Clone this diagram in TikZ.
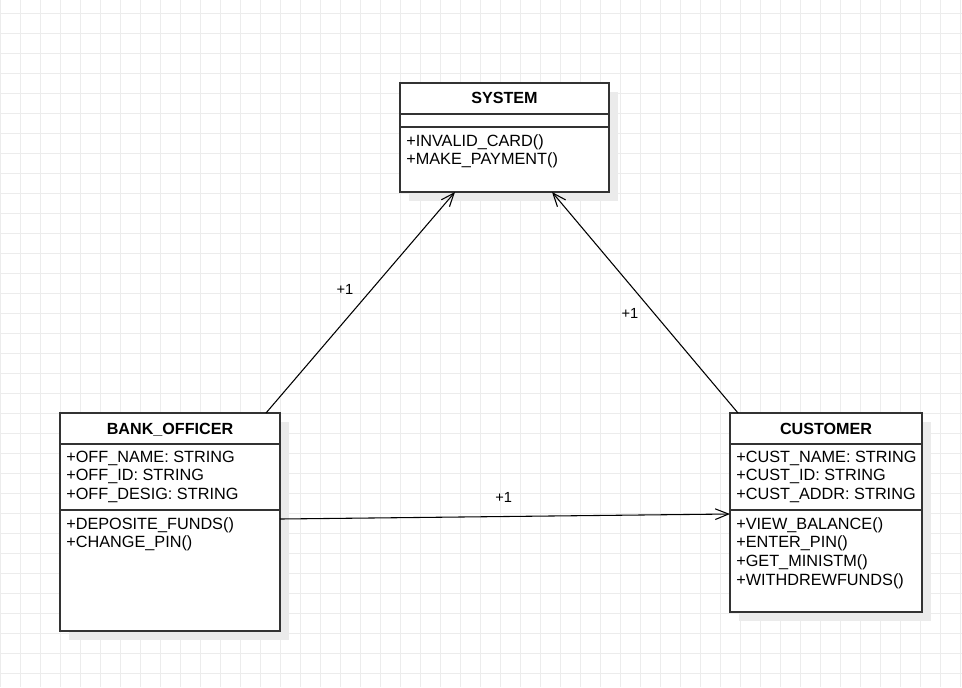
\documentclass[tikz,border=0pt]{standalone}
\usepackage{fontspec}
\setmainfont{Liberation Sans}
\usetikzlibrary{calc,arrows.meta}
\def\pxu{0.75pt}
\begin{document}
\begin{tikzpicture}[x=0.75pt,y=-0.75pt,
  cls/.style={draw=black!80, line width=1pt, fill=white, inner sep=0pt, outer sep=0pt, anchor=north west},
  hdr/.style={font=\fontsize{12.1}{14}\selectfont\bfseries, inner sep=0pt, anchor=base},
  row/.style={font=\fontsize{12.2}{14}\selectfont, inner sep=0pt, anchor=base west},
  lbl/.style={font=\fontsize{11}{13}\selectfont, inner sep=0pt},
  assoc/.style={draw=black, line width=0.8pt, -{Straight Barb[length=10pt,width=8pt]}},
  shadowc/.style={fill=black!8},
  gridline/.style={draw=black!7.5, line width=0.75pt}]

\useasboundingbox (0,0) rectangle (962,687);
\fill[white] (0,0) rectangle (962,687);
\foreach \gx in {0,20,...,960} \draw[gridline] (\gx,0) -- (\gx,687);
\foreach \gy in {13,33,...,673} \draw[gridline] (0,\gy) -- (962,\gy);

% SYSTEM
\fill[shadowc] (409,92) rectangle (618,201);
\node[cls, minimum width=209*\pxu, minimum height=31*\pxu] (sysh) at (400,83) {};
\node[cls, minimum width=209*\pxu, minimum height=13*\pxu] (sysa) at (sysh.south west) {};
\node[cls, minimum width=209*\pxu, minimum height=65*\pxu] (sysm) at (sysa.south west) {};
\node[hdr] (syst) at ($(sysh.north)+(0,20.5)$) {SYSTEM};
\node[row] (sys1) at ($(sysm.north west)+(6,19)$) {+INVALID\_CARD()};
\node[row] (sys2) at ($(sysm.north west)+(6,37.3)$) {+MAKE\_PAYMENT()};

% BANK_OFFICER
\fill[shadowc] (69,422) rectangle (289,640);
\node[cls, minimum width=220*\pxu, minimum height=31*\pxu] (boh) at (60,413) {};
\node[cls, minimum width=220*\pxu, minimum height=66*\pxu] (boa) at (boh.south west) {};
\node[cls, minimum width=220*\pxu, minimum height=121*\pxu] (bom) at (boa.south west) {};
\node[hdr] (bot) at ($(boh.north)+(0,21)$) {BANK\_OFFICER};
\node[row] (boa1) at ($(boa.north west)+(6,18)$) {+OFF\_NAME: STRING};
\node[row] (boa2) at ($(boa.north west)+(6,36.7)$) {+OFF\_ID: STRING};
\node[row] (boa3) at ($(boa.north west)+(6,55.3)$) {+OFF\_DESIG: STRING};
\node[row] (bom1) at ($(bom.north west)+(6,19.3)$) {+DEPOSITE\_FUNDS()};
\node[row] (bom2) at ($(bom.north west)+(6,37.7)$) {+CHANGE\_PIN()};

% CUSTOMER
\fill[shadowc] (739,422) rectangle (931,621);
\node[cls, minimum width=192*\pxu, minimum height=31*\pxu] (cuh) at (730,413) {};
\node[cls, minimum width=192*\pxu, minimum height=66*\pxu] (cua) at (cuh.south west) {};
\node[cls, minimum width=192*\pxu, minimum height=102*\pxu] (cum) at (cua.south west) {};
\node[hdr] (cut) at ($(cuh.north)+(0,21)$) {CUSTOMER};
\node[row] (cua1) at ($(cua.north west)+(6,18)$) {+CUST\_NAME: STRING};
\node[row] (cua2) at ($(cua.north west)+(6,36.7)$) {+CUST\_ID: STRING};
\node[row] (cua3) at ($(cua.north west)+(6,55.3)$) {+CUST\_ADDR: STRING};
\node[row] (cum1) at ($(cum.north west)+(6,19.3)$) {+VIEW\_BALANCE()};
\node[row] (cum2) at ($(cum.north west)+(6,37.7)$) {+ENTER\_PIN()};
\node[row] (cum3) at ($(cum.north west)+(6,56)$) {+GET\_MINISTM()};
\node[row] (cum4) at ($(cum.north west)+(6,75)$) {+WITHDREWFUNDS()};

% associations
\draw[assoc] ($(boh.north west)+(206,0)$) -- ($(sysm.south west)+(55,0)$);
\draw[assoc] ($(cuh.north west)+(8,0)$) -- ($(sysm.south west)+(152,0)$);
\draw[assoc] ($(bom.north east)+(0,9)$) -- ($(cum.north west)+(0,4)$);

\node[lbl] (l1) at (345,289.5) {+1};
\node[lbl] (l2) at (630,313.8) {+1};
\node[lbl] (l3) at (503.7,497.3) {+1};
\end{tikzpicture}
\end{document}
